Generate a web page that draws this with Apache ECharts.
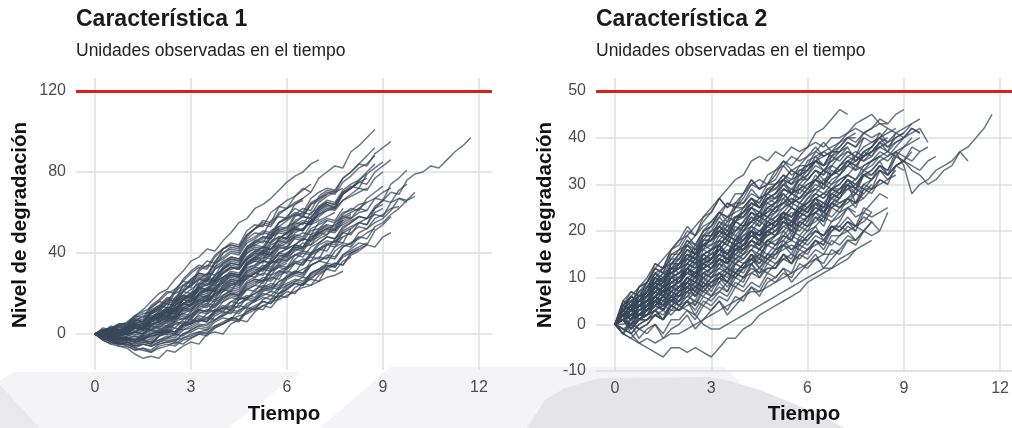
<!DOCTYPE html>
<html><head><meta charset="utf-8">
<script src="https://cdn.jsdelivr.net/npm/echarts@6/dist/echarts.min.js"></script>
<style>html,body{margin:0;padding:0;background:#fff}#c{width:1012px;height:428px}</style>
</head><body><div id="c"></div>
<script>
// ---- Data ----
const paso = 0.25; // observation step (time units)
const tiempoTicks = [0, 3, 6, 9, 12];
const nivelTicks1 = [0, 40, 80, 120];
const nivelTicks2 = [-10, 0, 10, 20, 30, 40, 50];
const umbral1 = 120;
const umbral2 = 50;
const titulo1 = 'Característica 1';
const titulo2 = 'Característica 2';
const subtitulo = 'Unidades observadas en el tiempo';
const ejeX = 'Tiempo';
const ejeY = 'Nivel de degradación';

// Característica 1 : degradation paths (values every 0.25 time units)
const c1u01 = [0,2,1,4,6,9,12,16,20,22,27,31,36,38,42,41,46,50,55,57,62,64,67,71,75,78,80,84,86];
const c1u02 = [0,1,3,2,4,7,6,11,13,17,20,22,27,30,29,36,40,43,42,48,52,56,55,63,66,68,72,70,77,80,83,82,90,93,97,101];
const c1u03 = [0,-1,0,1,2,4,3,7,9,12,11,17,20,23,22,29,32,35,34,42,45,48,47,55,58,62,60,67,70,72,71,77,80,84,83,89,92,95];
const c1u04 = [0,0,-2,-1,1,2,1,5,6,8,7,13,15,18,17,23,26,29,28,35,38,41,40,47,50,53,51,58,61,64,62,69,72,75,74,80,83,86];
const c1u05 = [0,-1,-2,-3,-2,-3,0,2,1,4,6,5,10,12,11,16,18,20,19,25,27,26,32,34,33,39,41,40,45,48,47,52,55,58,57,63,66,70,69,76,79,80,83,82,86,90,93,97];
const c1u06 = [0,-2,-3,-5,-4,-6,-4,-5,-1,1,0,4,5,7,6,11,13,12,17,19,18,23,25,24,29,31,30,36,38,37,43,45,44,50,52,55,57,61,67,65];
const c1u07 = [0,-3,-5,-6,-6,-8,-7,-8,-5,-4,-5,-2,0,1,0,4,6,8,7,12,14,16,15,20,22,25,24,30,32,35,34,39,42,45,44,51,54,58];
const c1u08 = [0,-2,-4,-6,-7,-10,-12,-11,-12,-8,-9,-6,-4,-5,0,1,0,5,7,6,11,14,13,18,21,20,25,27,26,33,35,34,40,42,44];
const c1u09 = [0,1,0,-1,0,1,3,2,5,7,6,11,13,15,14,20,22,21,27,29,28,33,36,35,40,43,42,48,50,49,55,58,57,62,65,67,66,74,77,81];
const c1u10 = [0,-1,-3,-2,-3,-4,-2,-3,0,2,1,5,6,8,7,12,14,13,19,22,21,26,28,27,33,35,34,40,42,41,47,50,49,55,57,59,58,65,67,66,70];
const c1u11 = [0,1,2,2,3,5,4,10,12,11,18,21,20,27,30,29,35,38,37,43,46,45,51,53,52,59,62,61,68,71,70,77,80,84,88,92];
const c1u12 = [0,0,1,1,2,4,3,6,8,7,13,15,14,19,22,21,26,28,27,34,36,35,40,43,42,48,50,49,55,57,56,62];
const c1u13 = [0,1,0,0,1,3,2,7,9,8,14,17,16,22,25,24,30,33,32,37,40,39,45,48,47,53,55,54,61,64,63,69,72,75];
const c1u14 = [0,2,3,3,4,6,5,11,14,13,21,24,23,31,34,33,40,42,41,47,50,49,56,58,57,64,66];
const c1u15 = [0,-1,-2,-4,-3,-2,-3,0,1,0,5,6,5,10,12,11,16,18,17,22,24,23,29,31,30,35,37,36,42,45,44,50,52];
const c1u16 = [0,0,-1,-1,0,1,0,4,6,5,10,13,12,17,19,18,24,26,25,31,33,32,37,40,39,44,47,46,51,54];
const c1u17 = [0,1,1,2,2,4,3,8,11,10,17,19,18,24,27,26,32,35,34,40,42,41,48,50,49,55,58,57,63,66,65,71,74,76,79];
const c1u18 = [0,-1,-2,-3,-2,-1,-2,1,2,1,6,8,7,12,14,13,18,20,19,24,26,25,31,33,32,37,40,39,44,46,45,51,53,55,54,60,62];
const c1u19 = [0,2,3,4,5,8,7,13,16,15,22,26,25,32,36,35,42,45,44,51,54,53,60,63,62,68,71,74];
const c1u20 = [0,-2,-4,-5,-5,-6,-5,-6,-4,-3,-4,0,1,3,2,6,8,7,12,13,12,17,19,18,23,25,24,28,30,32,34];
const c1u21 = [0,-2,-3,-4,-4,-5,-4,-5,-3,-1,-2,2,3,5,4,9,11,10,15,17,16,21,23,22,27,29,28,34,36,35,41,44,43,48];
const c1u22 = [0,1,0,1,1,3,2,6,7,6,12,15,14,20,22,21,27,29,28,34,37,36,42,44,43,50,52,55,57];
const c1u23 = [0,0,-1,0,0,1,0,4,5,4,9,12,11,16,18,17,23,25,24,30,32,31,36,39,38,44,47,46,52,54,53,59,62,61,67,70,73];
const c1u24 = [0,0,-1,-2,-1,0,-1,2,3,2,7,9,8,13,15,14,19,21,20,25,27,26,31,33,35];
const c1u25 = [0,1,2,2,3,5,4,8,10,9,16,18,17,24,27,26,33,36,35,41,44,43,49,52,51,58,60,59,65,68,70,72];
const c1u26 = [0,-2,-4,-5,-5,-7,-8,-9,-6,-5,-6,-3,-2,0,-1,3,5,7,6,11,13,12,17,19,18,23,25,24,29,32,31,36,38];
const c1u27 = [0,1,1,0,1,3,2,6,8,7,13,15,14,20,23,22,28,30,29,35,38,37,44,46,45,52,55,54,60,63,62,69,72,76,80,84];
const c1u28 = [0,-1,-1,-2,-2,-3,-1,-2,1,2,1,5,7,6,10,12,11,16,18,17,22,24,23,29,31,30,36,38,37,44,46,45,52,55,54,62,66,65,71,74];
const c1u29 = [0,1,2,1,2,4,3,8,10,9,16,19,18,25,28,27,33,35,34,40,43,42,48,51,50,56,58,57,63,65];
const c1u30 = [0,0,-1,-1,0,1,0,3,4,3,8,10,9,14,17,16,21,23,22,28,30,29,35,37,36,42,45,44,50,52,51,57,59];
const c1u31 = [0,-1,-3,-3,-3,-4,-3,-4,-1,1,0,4,5,7,6,11,13,12,17,18,17,22,24,23,28,30,32,34];
const c1u32 = [0,1,1,2,2,4,3,7,9,8,14,17,16,23,26,25,31,33,32,38,41,40,46,48,47,54,56,55,62,65,64,70,73,72,79,82,85];
const c1u33 = [0,2,-1,1,1,4,3,8,7,11,10,15,16,20,19,24,25,29,28,33,34,38,37,42,43,47,46,51,52,56,55,60,61,64,65];
const c1u34 = [0,1,4,2,3,6,9,8,11,15,14,19,22,25,24,29,32,34,33,38,41,43,42,47,50,52,51,56,59,61,63];
const c1u35 = [0,-2,0,-3,-1,1,0,4,3,6,8,7,11,14,13,17,19,22,21,26,28,30,29,34,36,39,38,43,45,48,47,53,55,58,57,62,64];
const c1u36 = [0,1,3,0,2,5,4,8,9,13,12,17,19,22,21,26,28,31,30,35,37,40,39,44,46,48];
const c1u37 = [0,-3,-2,-5,-5,-7,-5,-6,-4,-2,-3,0,2,4,3,7,9,12,11,15,17,20,19,23,25,27,26,30,32];
const c1u38 = [0,1,-1,0,0,3,2,5,6,9,8,12,14,17,16,21,23,26,25,29,31,34,33,38,40,43,42,47,49,52,51,56,58];
const c1u39 = [0,2,3,5,4,8,10,11,13,17,16,21,25,28,27,33,36,38,37,43,46,48,47,53,56,59,58,64,67,70,69,75,78,82,84,88];
const c1u40 = [0,2,1,4,3,7,6,10,12,16,15,21,24,27,26,32,35,37,36,42,45,47,49,52];
const c1u41 = [0,-1,-3,-2,-2,-1,-3,0,1,3,5,4,8,11,10,14,16,19,18,22,24,27,26,30,32,35,34,39,41,44,43,48,50,53,52,57,59,62,63];
const c1u42 = [0,-1,2,0,1,4,3,6,8,12,11,15,18,21,20,25,27,30,29,34,36,39,38,43,45,48,47,52,54,56];
const c1u43 = [0,3,2,5,5,9,11,13,16,20,22,26,30,33,32,38,42,44,43,49,52,55,54,60,62,64,67];
const c1u44 = [0,-3,-5,-4,-6,-8,-7,-9,-7,-6,-4,-5,-2,0,1,3,5,8,7,11,13,16,15,20,22,25,24,29,31,34,33,38,40,42];
const c1u45 = [0,1,3,1,2,5,4,8,10,13,12,17,20,23,22,27,30,33,32,37,40,43,42,47,50,52,51,56,59,62,61,66,69,72,71,77,80];
const c1u46 = [0,-1,-2,-1,-2,-3,-1,0,2,4,3,7,9,12,11,15,17,20,19,23,25,28,27,31,33,36,35,40,42,44,46,48];
const c1u47 = [0,2,0,1,1,3,5,4,7,10,9,13,15,17,16,20,22,25,24,28,30,33,32,37,39,42,41,46,48,51,50,55,57,60,61];
const c1u48 = [0,-2,-1,-3,-3,-4,-2,-1,0,2,1,4,6,9,8,11,13,16,15,18,20,23,22,26,28,31,30,34,36,39,38,43,45,48,47,53,55,59,62,66,68];
const c1u49 = [0,1,-1,2,2,4,3,7,9,12,11,17,19,22,21,26,28,30,29,36,38,40,39,45,47,49,48,54,56,58,60];
const c1u50 = [0,-1,1,-1,0,1,3,2,4,7,9,10,12,15,17,19,21,24,26,27,30,32,35,36,38,41,43,44,47,49,52,54,56,58];
const c1u51 = [0,2,1,3,4,7,6,11,13,17,16,24,26,29,28,35,37,40,39,45,47,50,49,55,57,60,59,65,67,69,71];
const c1u52 = [0,-1,-2,-4,-3,-4,-3,-5,-1,0,-1,3,5,7,6,10,12,14,13,18,20,22,21,26,28,30,29,34,36,38,37,43,45,47,50,52];
const c1u53 = [0,0,2,0,1,3,2,5,6,9,8,12,14,16,15,20,22,24,23,28,30,32,31,35,37,39,40];
const c1u54 = [0,1,2,1,3,5,6,9,10,13,14,18,20,23,24,28,30,32,33,37,39,41,42,46,48,51,52,56,58,61,62,66,68,70,72];
const c1u55 = [0,-2,-3,-5,-4,-6,-5,-6,-5,-4,-3,-2,-1,1,2,4,5,7,9,10,12,14,16,17,19,21,23,24,26,28,29,31];
const c1u56 = [0,1,0,2,2,4,3,7,8,11,10,15,17,19,18,23,25,27,26,32,34,36,35,40,42,44,43,49,51,53,52,58,60,62,61,67,70,72];
const c1u57 = [0,2,3,5,5,9,8,14,17,21,20,27,31,34,33,39,42,44,43,49,52,54,53,59,62,65,67,70];
const c1u58 = [0,-2,-3,-5,-4,-5,-3,-4,-3,-2,0,-1,2,4,5,7,9,11,10,14,16,18,17,22,24,26,25,30,32,34,33,39,41,43,45];
const c1u59 = [0,1,-1,2,2,5,4,7,8,11,10,14,16,19,18,22,24,27,26,31,33,36,35,40,42,44,43,48,50,52,54,56];
const c1u60 = [0,1,3,2,3,6,5,10,12,15,14,21,24,27,26,32,34,37,36,42,44,46,45,51,53,55,54,60,62,65,64,70,72,75,77];
const c1u61 = [0,-1,0,-2,-2,-3,-2,-1,0,1,3,2,4,6,8,7,10,12,14,13,17,19,21,20,24,26,28,27,31,33,35,34,39,41,44,43,48,50];
const c1u62 = [0,2,1,4,4,7,6,12,14,18,17,24,27,30,29,35,38,41,40,46,48,51,50,55,57,59,58,64,66,69];

// Característica 2 : degradation paths (values every 0.25 time units)
const c2u01 = [0,2,4,5,8,10,12,13,15,17,16,19,21,23,26,25,27,30,31,30,33,35,34,36,38,41,42,44,46,45];
const c2u02 = [0,2,3,5,6,8,10,12,13,14,17,16,19,21,20,23,24,26,25,27,28,31,30,32,33,35,37,36,38,40,39,41,42,44,43,45,46];
const c2u03 = [0,1,2,1,3,4,6,7,8,9,11,12,13,15,14,16,17,19,18,20,21,23,22,24,25,27,26,28,29,31,30,32,33,35,36,37,34,28,30,31,33,34,35,37,38,40,42,45];
const c2u04 = [0,2,3,4,4,6,7,8,9,11,12,13,14,15,17,16,18,20,19,21,22,24,23,25,26,28,27,29,29,31,30,32,32,34,33,36,35,33,32,30,31,33,34,37,35];
const c2u05 = [0,1,-1,1,2,3,2,4,5,7,6,8,9,10,9,11,12,14,13,15,15,17,16,18,18,20,19,21,20,22,21,23,22,20,24];
const c2u06 = [0,1,2,2,3,4,6,5,7,8,9,8,10,11,12,11,13,14,15,14,16,17,18,17,19,20,19,21,21,20,18,20,22];
const c2u07 = [0,-2,-3,-4,-5,-6,-7,-5,-5,-6,-5,-6,-7,-5,-3,-3,-1,0,2,3,4,5,6,7,9,10,11,12,13,14,16,17,18];
const c2u08 = [0,1,2,3,4,5,6,5,4,3,2,0,-1,-1,0,1,2,3,4,5,6,7,8,9,10,11,12,12,14,15,16];
const c2u09 = [0,-1,-2,-4,-3,-4,-3,-2,-2,-1,0,1,2,3,4,5,6,7,7,8,9,10,11,12,13,14,15,15,16];
const c2u10 = [0,2,1,4,5,6,8,7,10,11,13,12,14,16,15,17,18,20,19,21,22,24,23,25,26,28,27,29,30,32,31,33,34,36,35,37,38,40];
const c2u11 = [0,3,4,5,7,9,11,10,13,15,14,17,18,19,21,20,22,24,23,25,26,29,28,29,30,31,33,32,34,36,37,36,38,40,41,42];
const c2u12 = [0,1,3,2,4,6,5,7,8,10,9,11,12,14,13,15,16,17,16,18,19,21,22,21,23,24,25];
const c2u13 = [0,3,5,7,9,11,12,14,16,17,19,21,22,24,26,25,28,30,29,32,33,34,36,35,36,37,39,37,38,40,40];
const c2u14 = [0,0,1,2,2,4,3,5,6,7,9,8,10,12,11,13,14,16,15,17,18,19,21,20,22,24,23,25,26,27,29,28,30];
const c2u15 = [0,2,1,3,4,6,7,8,9,11,10,12,13,15,14,16,17,19,18,20,21,22,24,23,25,27,28,29,30,32,31,34,35,37,36,38,40,41,42,39];
const c2u16 = [0,2,4,5,6,8,7,10,11,12,14,13,16,17,19,18,20,22,21,23,24,26,25];
const c2u17 = [0,1,2,1,3,4,6,5,7,8,10,9,11,13,12,14,15,16,18,17,19,20,22,21,23,24,26,25,27];
const c2u18 = [0,2,3,4,5,7,8,10,11,12,14,15,16,18,17,20,21,23,22,25,26,27,29,28,30,31,33,32,34,35,36,35,37,38,39];
const c2u19 = [0,1,0,2,3,5,4,6,7,9,8,10,11,12,14,13,15,17,16,18,19,21,20,22,23,25,24,26,27,29,28,30,31,33,32,34,35];
const c2u20 = [0,3,4,6,8,9,11,12,14,16,15,18,20,21,23,22,25,27,26,29,30,31,33,32,34,35,36,37];
const c2u21 = [0,-1,0,1,1,2,3,2,4,5,7,6,8,9,11,10,12,13,15,14,16,17,19,18,20,21,23,22,24,25,26,27];
const c2u22 = [0,2,3,5,6,7,9,10,11,13,12,15,16,17,19,18,21,22,24,23,25,26,28,27,29,31,30,32,33,34,36,35,36,38,37,39,40,42,41];
const c2u23 = [0,1,3,2,4,6,7,8,9,11,10,13,14,16,15,18,19,20,22,21,23,25,26,27,28,29,31,30,32,34,33,34,35,36];
const c2u24 = [0,1,0,2,2,3,4,3,5,6,8,7,9,10,11,10,12,13,14,13,15,16,17,16,18];
const c2u25 = [0,2,3,4,5,7,8,9,10,12,13,14,15,16,18,17,19,21,20,22,23,24,26,25,27,29,28,30,31,32];
const c2u26 = [0,3,5,6,7,9,10,11,12,14,13,15,16,17,19,18,20,22,23,24,25,26,28,27,29,31,30,32,33,35,34,36,37,39,40];
const c2u27 = [0,1,2,2,3,4,6,5,7,9,10,11,12,13,15,14,16,18,17,19,20,22,21,23,24,26,25,27,28,29,30,29,31,33,32,34,35,34,33,35,36];
const c2u28 = [0,2,3,4,5,6,8,9,10,12,11,13,14,16,15,17,18,20,19,20,21];
const c2u29 = [0,2,4,5,6,8,10,11,13,14,16,17,19,20,22,23,24,26,25,27,28,30,31,32,33,35,34,36,37];
const c2u30 = [0,1,0,1,2,3,5,4,6,7,8,7,9,10,12,11,13,14,16,15,17,18,20,19,21,22,24,23,25,26,28,27,29,30,31,32];
const c2u31 = [0,2,3,4,5,7,6,9,10,12,11,14,15,16,18,17,20,21,23,22,24,25,27,26,28,30,29,31,32,34,35,36,37,39,38,40,41];
const c2u32 = [0,1,2,3,4,5,7,6,8,10,11,12,13,14,16,15,17,19,20,21,22,23,25,24,26,27,28,27,29,30,31];
const c2u33 = [0,3,4,6,7,8,10,11,12,13,15,16,17,18,20,19,21,22,24,23,25,26,27,26,28,29];
const c2u34 = [0,-1,-2,0,1,2,1,3,3,4,5,4,6,7,9,8,10,11,12,11,13,14,15,14,16,17,18,17,19,20,21,20,22];
const c2u35 = [0,1,3,2,4,5,7,6,8,9,11,10,12,14,13,16,17,18,20,19,22,23,25,24,27,28,30,29,31,32,34,33,35,36,37,36,38,39,40];
const c2u36 = [0,4,6,8,9,12,14,16,18,19,21,23,25,27,29,31,32,35,36,35,37,36,38,37,38,39,38,40,40,41,42,41,42,43,43];
const c2u37 = [0,2,3,5,6,8,9,11,12,13,15,17,18,20,19,22,24,25,27,28,30,31,33,32,35,36,37,38,39,41,43,44,45,43,42];
const c2u38 = [0,3,2,5,5,8,6,9,9,12,10,14,13,16,14,18,17,20,18,22,21,24,22,25,24,27,25,29,28,31,29,32,31];
const c2u39 = [0,4,3,6,7,10,8,12,12,15,13,17,17,20,18,22,21,24,22,26,25,28,26,30,29,32,30,34,33];
const c2u40 = [0,2,0,3,3,6,4,8,7,10,8,12,11,14,12,16,15,18,16,20,19,22,20,24,23,26,24,28,27,30,28,32,31,34,32,36,35,37];
const c2u41 = [0,3,1,4,4,7,6,10,9,12,11,15,14,17,15,19,18,21,19,23,22,24,23,26,25];
const c2u42 = [0,3,5,4,6,9,8,12,11,14,13,17,16,19,18,22,21,24,23,27,26,29,28,32,31,33,32,36,35,37,36,40,39,40,42,41];
const c2u43 = [0,2,-1,2,2,5,3,7,6,9,7,11,10,13,11,15,14,16,14,18,17,20,18,22,21,24,22,26,25,27,26,28];
const c2u44 = [0,3,2,5,4,8,7,11,10,13,12,16,15,18,17,21,20,23,21,25,24,27,25,29,28,31,29,33,32,35,33,37,36,39,37,41,40];
const c2u45 = [0,4,3,7,8,11,10,14,14,17,15,19,19,22,20,23,23,26,25,28,27,28];
const c2u46 = [0,1,-2,0,1,3,1,5,4,6,5,9,8,10,9,13,12,15,13,17,16,19,18,21,20,23,21,25,24,27,25,29,28,31,30];
const c2u47 = [0,4,3,6,6,10,9,13,13,16,15,19,19,22,21,25,25,27,26,29,29,31,30,33,33,35,34,37,37,38];
const c2u48 = [0,1,3,2,3,6,5,9,8,10,9,13,12,14,13,17,16,18,17,21,20,22,21,25,24,26,25,29,28,30,29,33,32,34,33,37,36,35,37,38];
const c2u49 = [0,2,4,3,5,8,7,10,10,12,11,14,14,17,15,18,18,20,19,22,21,23,22,25,24,27,26];
const c2u50 = [0,5,4,8,9,12,11,15,15,18,17,20,21,24,22,26,26,28,27,30,30,32,31,34,34,35,34,37,37,39,38,41,40,41];
const c2u51 = [0,2,1,4,3,5,4,8,7,10,9,13,12,14,13,17,16,18,17,20,19,22,21,24,23,25,24,27,26,27,28];
const c2u52 = [0,1,-1,1,2,4,3,6,6,8,7,11,10,11,10,14,13,15,14,18,17,19,18,22,21,23,22,26,25,27,26,30,29,31,30,34,33];
const c2u53 = [0,4,6,5,7,10,9,13,13,16,14,18,18,21,19,23,23,25,24,27,27,29,28,31,31,33,32,34];
const c2u54 = [0,-2,0,-1,0,2,1,4,3,5,4,7,6,8,7,11,10,12,11,14,13,15,14,18,17,19,18,21,20,22,21,25,24];
const c2u55 = [0,3,5,4,6,9,8,12,12,15,14,18,18,20,19,22,23,25,24,27,28,30,29,31,32,34,33,35,36,37,36,38,39,40,39,41,42,43,44];
const c2u56 = [0,2,4,1,2,5,3,6,4,7,4,8,6,9,7,10,9,13,10,12,12,15,13,16,15,18,16,19,19,21,20];
const c2u57 = [0,5,4,8,10,13,12,16,17,20,19,23,24,27,25,28,28,31,29,30,31,34,32,33,34,37,36];
const c2u58 = [0,3,1,4,5,9,6,8,8,12,10,15,14,17,13,16,16,20,17,22,21,24,19,23,22,26,23,28,27,30,26,29,29,33,31,33];
const c2u59 = [0,-2,1,-1,-2,0,-3,-1,0,2,-1,1,3,5,2,4,6,8,6,9,10,12,9,11,13,15,12,14,16,18,18];
const c2u60 = [0,4,6,5,8,11,9,13,14,17,15,19,20,23,21,22,24,27,25,28,29,31,28,30,32,35,33,34,36,38,35,37,38,41,39,40,41,43];
const c2u61 = [0,3,1,2,3,6,4,5,5,8,6,10,9,11,9,13,12,15,12,14,15,18,16,17,19,21,18,20,22,25,23,24,26,28,27];
const c2u62 = [0,5,7,6,9,12,11,15,16,19,17,20,21,24,23,25,26,29,27,28,30,32,30,31,33,36,34,35,37,39,38,40];
const c2u63 = [0,3,5,4,6,8,7,10,9,12,10,13,12,15,14,16,17,20,18,19,20,23,21,24,25,27,24,26,28,31,29,32,33,35,32,34,35,38,37];
const c2u64 = [0,-2,-3,-1,0,2,1,4,3,5,3,6,5,7,6,9,8,11,10,13,12,14,13,15,16,18,17,20,21,23,21,22,24];
const c2u65 = [0,3,6,5,7,10,8,12,13,15,14,17,18,21,19,20,22,25,23,24,26,28,26,27,29,31,30,32,33,35,34,36,37,38];
const c2u66 = [0,2,-1,1,1,3,1,4,3,5,2,5,4,6,5,8,7,9,8,11,10,12,11,15,14,16,15,18,17,19,18,20];
const c2u67 = [0,2,4,2,3,5,3,6,5,8,6,9,7,10,8,11,10,13,11,12,12,15,13,17,16,18,17,21,20,22,20,24,23,24,25];
const c2u68 = [0,4,7,6,9,13,12,16,18,21,19,22,24,27,25,26,28,31,29,30,32,35,33,34,36,38,36,37,39,40,41];
const c2u69 = [0,-2,0,-3,-1,0,-2,1,1,3,1,4,3,5,3,6,5,8,7,10,9,11,10,13,12,14,13,16,15,18,17,20,19,20];
const c2u70 = [0,3,6,5,7,11,9,13,15,18,16,20,22,24,23,24,25,27,25,26,27,30,28,29,31,33,31,32,34,36,35,37,38,40,38,39,40,42,41];
const c2u71 = [0,3,1,4,4,6,4,7,6,9,7,10,8,11,9,12,11,14,12,15,14,17,15,19,18,20,19,22,23,25,24];

const caract1 = [c1u01,c1u02,c1u03,c1u04,c1u05,c1u06,c1u07,c1u08,c1u09,c1u10,c1u11,c1u12,c1u13,c1u14,c1u15,c1u16,
  c1u17,c1u18,c1u19,c1u20,c1u21,c1u22,c1u23,c1u24,c1u25,c1u26,c1u27,c1u28,c1u29,c1u30,c1u31,c1u32,
  c1u33,c1u34,c1u35,c1u36,c1u37,c1u38,c1u39,c1u40,c1u41,c1u42,c1u43,c1u44,c1u45,c1u46,c1u47,c1u48,
  c1u49,c1u50,c1u51,c1u52,c1u53,c1u54,c1u55,c1u56,c1u57,c1u58,c1u59,c1u60,c1u61,c1u62];
const caract2 = [c2u01,c2u02,c2u03,c2u04,c2u05,c2u06,c2u07,c2u08,c2u09,c2u10,c2u11,c2u12,c2u13,c2u14,c2u15,c2u16,
  c2u17,c2u18,c2u19,c2u20,c2u21,c2u22,c2u23,c2u24,c2u25,c2u26,c2u27,c2u28,c2u29,c2u30,c2u31,c2u32,c2u33,c2u34,
  c2u35,c2u36,c2u37,c2u38,c2u39,c2u40,c2u41,c2u42,c2u43,c2u44,c2u45,c2u46,c2u47,c2u48,c2u49,c2u50,c2u51,c2u52,
  c2u53,c2u54,c2u55,c2u56,c2u57,c2u58,c2u59,c2u60,c2u61,c2u62,c2u63,c2u64,c2u65,c2u66,c2u67,c2u68,c2u69,c2u70,c2u71];

// ---- Chart ----
const FONT = '"Liberation Sans", Arial, Helvetica, sans-serif';
const LINE_COLOR = '#38475a';
const GRID_COLOR = '#dedede';
const RED = '#dc1e1e';

function pathSeries(units, idx, umbral) {
  return units.map((arr, k) => {
    const s = {
      type: 'line', xAxisIndex: idx, yAxisIndex: idx,
      data: arr.map((v, i) => [i * paso, v]),
      showSymbol: false, symbol: 'none', silent: true, clip: true,
      lineStyle: { color: LINE_COLOR, width: 1.5, opacity: 0.74 },
      z: 3
    };
    if (k === 0) {
      s.markLine = {
        silent: true, symbol: ['none', 'none'], animation: false,
        label: { show: false },
        lineStyle: { color: RED, width: 3, type: 'solid', opacity: 1 },
        data: [{ yAxis: umbral }], z: 5
      };
    }
    return s;
  });
}

function xAxis(idx, min, max) {
  return {
    type: 'value', gridIndex: idx, min: min, max: max,
    axisLine: { show: false },
    axisTick: { show: false, customValues: tiempoTicks },
    axisLabel: { customValues: tiempoTicks, color: '#4d4d4d', fontSize: 16, fontFamily: FONT, margin: 10 },
    splitLine: { show: true, lineStyle: { color: GRID_COLOR, width: 1.5 } }
  };
}
function yAxis(idx, min, max, ticks) {
  return {
    type: 'value', gridIndex: idx, min: min, max: max,
    axisLine: { show: false },
    axisTick: { show: false, customValues: ticks },
    axisLabel: { customValues: ticks, color: '#4d4d4d', fontSize: 16, fontFamily: FONT, margin: 10 },
    splitLine: { show: true, lineStyle: { color: GRID_COLOR, width: 1.5 } }
  };
}

function txt(x, y, text, font, color, align, rot) {
  return {
    type: 'text', x: x, y: y, rotation: rot || 0, silent: true, z: 10,
    style: { text: text, font: font, fill: color, align: align, verticalAlign: 'middle' }
  };
}

const chart = echarts.init(document.getElementById('c'), null, { renderer: 'canvas' });
chart.setOption({
  animation: false,
  backgroundColor: '#ffffff',
  grid: [
    { left: 76, top: 78, width: 416, height: 292 },
    { left: 596, top: 78, width: 416, height: 293 }
  ],
  xAxis: [xAxis(0, -0.594, 12.41), xAxis(1, -0.592, 12.37)],
  yAxis: [yAxis(0, -17.78, 126.42, nivelTicks1), yAxis(1, -10, 52.79, nivelTicks2)],
  graphic: [
    // faint background shapes at the bottom of the picture
    { type: 'polygon', z: -10, silent: true, shape: { points: [[15,372],[300,372],[228,428],[40,428],[0,385],[0,380]] }, style: { fill: '#f4f4f6' } },
    { type: 'polygon', z: -9, silent: true, shape: { points: [[0,385],[40,428],[0,428]] }, style: { fill: '#e9e9ed' } },
    { type: 'polygon', z: -10, silent: true, shape: { points: [[390,367],[725,367],[740,382],[530,428],[320,428]] }, style: { fill: '#f4f4f6' } },
    { type: 'polygon', z: -9, silent: true, shape: { points: [[527,428],[545,400],[565,388],[600,378],[710,377],[730,381],[760,390],[790,402],[820,415],[845,428]] }, style: { fill: '#e5e5e9' } },
    txt(76, 19.5, titulo1, 'bold 23px ' + FONT, '#1a1a1a', 'left'),
    txt(76, 51, subtitulo, '17.5px ' + FONT, '#222222', 'left'),
    txt(596, 19.5, titulo2, 'bold 23px ' + FONT, '#1a1a1a', 'left'),
    txt(596, 51, subtitulo, '17.5px ' + FONT, '#222222', 'left'),
    txt(284, 414, ejeX, 'bold 20.5px ' + FONT, '#111111', 'center'),
    txt(804, 414, ejeX, 'bold 20.5px ' + FONT, '#111111', 'center'),
    txt(20, 225, ejeY, 'bold 20.5px ' + FONT, '#111111', 'center', Math.PI / 2),
    txt(545, 225, ejeY, 'bold 20.5px ' + FONT, '#111111', 'center', Math.PI / 2)
  ],
  series: [].concat(pathSeries(caract1, 0, umbral1), pathSeries(caract2, 1, umbral2))
});
</script>
</body></html>
